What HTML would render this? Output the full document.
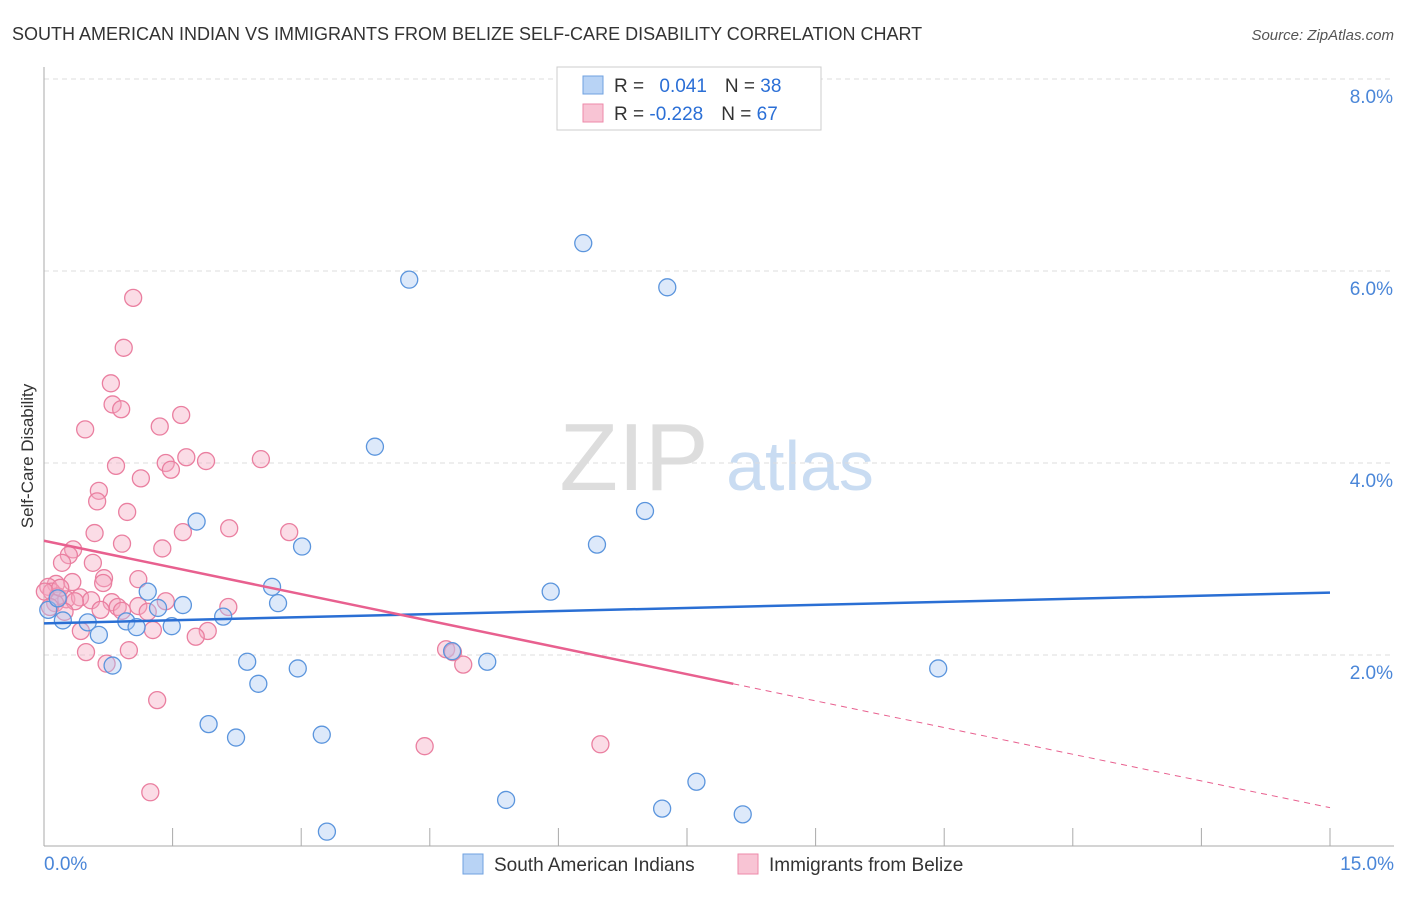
<!DOCTYPE html>
<html><head><meta charset="utf-8"><style>
body{margin:0;background:#fff;font-family:"Liberation Sans",sans-serif}
svg text{font-family:"Liberation Sans",sans-serif}
</style></head><body>
<svg id="c" width="1406" height="892">
<text x="12" y="40" font-size="18" fill="#333">SOUTH AMERICAN INDIAN VS IMMIGRANTS FROM BELIZE SELF-CARE DISABILITY CORRELATION CHART</text>
<text x="1394" y="40" font-size="15" fill="#555" text-anchor="end" font-style="italic">Source: ZipAtlas.com</text>
<text x="33" y="456" font-size="17" fill="#333" text-anchor="middle" transform="rotate(-90 33 456)">Self-Care Disability</text>
<text x="634" y="490" font-size="96" fill="#ddd" font-family="Liberation Serif" text-anchor="middle">ZIP</text>
<text x="800" y="490" font-size="70" fill="#c9dcf2" text-anchor="middle">atlas</text>
<g id="grid"></g><g id="axes"></g><g id="pts"></g><g id="trend"></g>
<g>
<rect x="557" y="67" width="264" height="63" fill="#fff" stroke="#ccc"/>
<rect x="583" y="76" width="20" height="18" fill="#b8d3f5" stroke="#6fa2e0"/>
<rect x="583" y="104" width="20" height="18" fill="#f8c4d4" stroke="#ee8aaa"/>
<text x="614" y="92" font-size="19" fill="#333">R = <tspan fill="#2b6fd6" dx="10">0.041</tspan><tspan dx="18">N = </tspan><tspan fill="#2b6fd6">38</tspan></text>
<text x="614" y="120" font-size="19" fill="#333">R = <tspan fill="#2b6fd6">-0.228</tspan><tspan dx="18">N = </tspan><tspan fill="#2b6fd6">67</tspan></text>
</g>
<g>
<rect x="463" y="854" width="20" height="20" fill="#b8d3f5" stroke="#6fa2e0"/>
<text x="494" y="871" font-size="19" fill="#333">South American Indians</text>
<rect x="738" y="854" width="20" height="20" fill="#f8c4d4" stroke="#ee8aaa"/>
<text x="769" y="871" font-size="19" fill="#333">Immigrants from Belize</text>
</g>
</svg>
<script>
const xTicks=[0,1.5,3,4.5,6,7.5,9,10.5,12,13.5,15];
const yTicks=[2,4,6,8];
const yTickLabels=["2.0%","4.0%","6.0%","8.0%"];
const blueX=[6.29,4.26,7.27,3.86,7.01,1.78,6.45,3.01,5.91,1.21,2.66,1.62,1.33,2.73,2.09,0.96,0.51,0.22,1.49,1.08,0.64,0.05,4.76,5.17,2.37,2.96,0.80,10.43,2.50,1.92,2.24,3.24,7.61,5.39,7.21,8.15,3.30,0.16];
const blueY=[6.29,5.91,5.83,4.17,3.50,3.39,3.15,3.13,2.66,2.66,2.71,2.52,2.49,2.54,2.40,2.35,2.34,2.36,2.30,2.29,2.21,2.47,2.04,1.93,1.93,1.86,1.89,1.86,1.70,1.28,1.14,1.17,0.68,0.49,0.40,0.34,0.16,2.59];
const pinkX=[1.04,0.93,0.78,0.80,0.90,1.60,0.48,1.35,0.84,1.66,1.89,1.42,1.48,2.53,1.13,0.64,0.62,0.97,0.59,2.16,1.62,2.86,0.91,1.38,0.34,0.29,0.21,0.57,0.70,1.10,0.14,0.33,0.69,0.05,0.09,0.16,0.26,0.42,0.55,0.79,1.42,1.10,0.86,1.21,2.15,0.66,0.91,0.43,1.27,1.91,1.77,0.49,0.99,4.69,4.77,4.89,0.73,1.32,4.44,6.49,1.24,0.13,0.01,0.19,0.36,0.07,0.24];
const pinkY=[5.72,5.20,4.83,4.61,4.56,4.50,4.35,4.38,3.97,4.06,4.02,4.00,3.93,4.04,3.84,3.71,3.60,3.49,3.27,3.32,3.28,3.28,3.16,3.11,3.10,3.04,2.96,2.96,2.80,2.79,2.74,2.76,2.75,2.71,2.66,2.61,2.58,2.60,2.57,2.55,2.56,2.51,2.50,2.45,2.50,2.47,2.46,2.25,2.26,2.25,2.19,2.03,2.05,2.06,2.03,1.90,1.91,1.53,1.05,1.07,0.57,2.54,2.66,2.70,2.56,2.50,2.45];
const blueTrend=[2.33,2.65];
const pinkTrend=[3.19,0.41];
const pinkSolidEnd=8.04;
const NS="http://www.w3.org/2000/svg";
const X=v=>44+v*(1286/15), Y=v=>847-v*96;
function mk(p,t,a){const e=document.createElementNS(NS,t);for(const k in a)e.setAttribute(k,a[k]);document.getElementById(p).appendChild(e);return e;}
yTicks.forEach((t,i)=>{
 const l=mk('grid','line',{x1:44,x2:1394,y1:Y(t),y2:Y(t),stroke:'#ddd','stroke-dasharray':'5,4'});
 
 
 const tx=mk('grid','text',{x:1393,y:Y(t)+24,'font-size':19,fill:'#4a86d8','text-anchor':'end'});
 tx.textContent=yTickLabels[i];
 
 
});
const axl=mk('axes','line',{x1:44,x2:44,y1:67,y2:846,stroke:'#aaa'});


const axb=mk('axes','line',{x1:44,x2:1394,y1:846,y2:846,stroke:'#aaa'});


xTicks.forEach(t=>{const l=mk('axes','line',{x1:X(t),x2:X(t),y1:828,y2:846,stroke:'#aaa'});
 
 });
[[0,'0.0%','start',44],[15,'15.0%','end',1394]].forEach(d=>{const t=mk('axes','text',{x:d[3],y:870,'font-size':19,fill:'#4a86d8','text-anchor':d[2]});t.textContent=d[1];
 
 });
function pts(xs,ys,f,s,n){xs.forEach((x,i)=>{const c=mk('pts','circle',{cx:X(x),cy:Y(ys[i]),r:8.5,fill:f,'fill-opacity':0.4,stroke:s,'stroke-width':1.3});
 
 });}
pts(pinkX,pinkY,'#f5a8c0','#ea7fa0','point-belize');
pts(blueX,blueY,'#a9c9f2','#5b95dd','point-south-american-indian');
const b=mk('trend','line',{x1:X(0),y1:Y(blueTrend[0]),x2:X(15),y2:Y(blueTrend[1]),stroke:'#2a6fd4','stroke-width':2.5});


const py=x=>pinkTrend[0]+(pinkTrend[1]-pinkTrend[0])*x/15;
const p=mk('trend','line',{x1:X(0),y1:Y(py(0)),x2:X(pinkSolidEnd),y2:Y(py(pinkSolidEnd)),stroke:'#e8608f','stroke-width':2.5});


const pd=mk('trend','line',{x1:X(pinkSolidEnd),y1:Y(py(pinkSolidEnd)),x2:X(15),y2:Y(py(15)),stroke:'#e8608f','stroke-width':1,'stroke-dasharray':'6,5'});


</script>
</body></html>
